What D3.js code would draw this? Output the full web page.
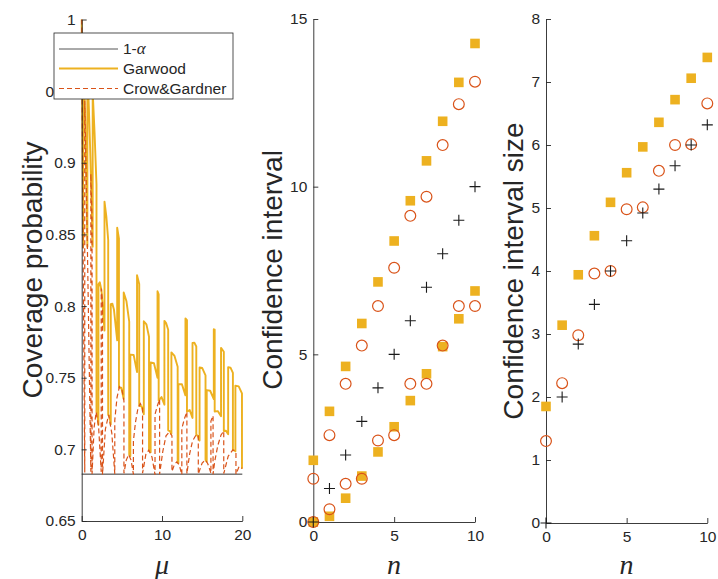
<!DOCTYPE html>
<html><head><meta charset="utf-8">
<script src="https://cdn.jsdelivr.net/npm/d3@7"></script>
<style>body{margin:0;background:#fff}svg{display:block}</style>
</head><body><svg id="c" width="718" height="579"></svg>
<script>
// ---------------- data ----------------
const confLevel = 0.6827;   // 1-alpha
// coverage of the Garwood interval vs mu : [mu, coverage]
const garwoodCoverage = [
 [0,1.0],[0.087,0.9167],[0.173,0.8411],[0.173,0.9869],[0.3,0.9631],[0.44,0.9274],[0.58,0.8846],
 [0.708,0.8414],[0.708,0.9649],[0.87,0.9421],[1.04,0.9123],[1.2,0.8795],[1.367,0.8414],[1.367,0.9499],
 [1.6,0.9212],[1.841,0.8850],[1.841,0.7263],[1.96,0.7235],[2.086,0.7172],[2.086,0.8152],
 [2.25,0.8166],[2.46,0.8111],[2.84,0.7829],[2.84,0.8729],[3.07,0.8625],[3.3,0.8460],[3.3,0.7243],
 [3.46,0.7227],[3.62,0.7176],[3.62,0.8013],[3.82,0.8017],[4.02,0.7974],[4.419,0.7761],[4.419,0.8547],
 [4.638,0.8471],[4.638,0.7430],[4.93,0.7430],[5.232,0.7351],[5.232,0.8095],
 [5.575,0.8033],[5.918,0.7891],[5.918,0.6962],[6.057,0.6953],[6.057,0.7661],
 [6.47,0.7659],[6.891,0.7539],[6.891,0.8215],[7.163,0.8154],[7.163,0.7304],
 [7.45,0.7301],[7.734,0.7245],[7.734,0.7894],[8.06,0.7872],[8.382,0.7786],[8.382,0.6997],
 [8.585,0.6980],[8.585,0.7606],[9.0,0.7601],[9.441,0.7499],[9.441,0.8103],[9.584,0.8082],[9.584,0.7341],
 [9.94,0.7365],[10.30,0.7312],[10.30,0.7897],[10.53,0.7879],[10.77,0.7835],[10.77,0.7133],
 [10.97,0.7128],[11.17,0.7109],[11.17,0.7677],[11.56,0.7652],[11.95,0.7577],[11.95,0.6910],
 [12.04,0.6904],[12.04,0.7456],[12.48,0.7454],[12.92,0.7377],[12.92,0.7914],[13.11,0.7902],[13.11,0.7263],
 [13.45,0.7274],[13.80,0.7219],[13.80,0.7743],[14.03,0.7745],[14.27,0.7718],[14.27,0.7104],
 [14.47,0.7090],[14.68,0.7061],[14.68,0.7572],[15.0,0.7568],[15.42,0.7516],[15.42,0.6926],
 [15.57,0.6914],[15.57,0.7413],[16.0,0.7409],[16.45,0.7351],[16.45,0.7838],[16.56,0.7835],[16.56,0.7264],
 [16.95,0.7267],[17.35,0.7231],[17.35,0.7708],[17.70,0.7681],[17.70,0.7128],
 [17.97,0.7130],[18.24,0.7106],[18.24,0.7573],[18.53,0.7570],[18.83,0.7534],[18.83,0.6997],
 [19.14,0.6987],[19.14,0.7445],[19.55,0.7440],[19.96,0.7390],[19.96,0.6869],[20,0.6866]
];
// coverage of the Crow & Gardner interval vs mu : [mu, coverage]
const crowGardnerCoverage = [
 [0,1.0],[0.19,0.8270],[0.38,0.6839],[0.38,0.9433],[0.57,0.8878],[0.76,0.8232],[0.95,0.7541],
 [1.14,0.6844],[1.14,0.8922],[1.29,0.8596],[1.29,0.6828],
 [1.55,0.7155],[1.8,0.7260],[2.1,0.7162],[2.43,0.6843],[2.43,0.8122],[2.59,0.8038],[2.59,0.6824],
 [2.95,0.7141],[3.35,0.7241],[3.75,0.7113],[4.12,0.6829],[4.12,0.7203],
 [4.4,0.7363],[4.7,0.7437],[5.0,0.7420],[5.26,0.7338],[5.26,0.6833],
 [5.55,0.6925],[5.85,0.6963],[6.15,0.6925],[6.44,0.6825],[6.44,0.7059],
 [6.7,0.7190],[7.0,0.7285],[7.3,0.7320],[7.58,0.7292],[7.58,0.6834],
 [8.0,0.6968],[8.35,0.6994],[8.75,0.6947],[9.13,0.6823],[9.13,0.7244],
 [9.4,0.7300],[9.70,0.7350],[9.70,0.6826],[10.1,0.6986],[10.5,0.7094],[10.9,0.7120],[11.24,0.7096],[11.24,0.6845],
 [11.55,0.6895],[11.85,0.6913],[12.15,0.6890],[12.47,0.6824],[12.47,0.7146],
 [12.8,0.7215],[13.1,0.7262],[13.1,0.6830],[13.45,0.6971],[13.8,0.7057],[14.27,0.7104],[14.52,0.7095],[14.52,0.6827],
 [15.0,0.6905],[15.42,0.6926],[15.7,0.6900],[16.0,0.6850],[16.09,0.6833],[16.09,0.7197],[16.36,0.7235],[16.36,0.6827],
 [16.56,0.6914],[16.95,0.7027],[17.35,0.7100],[17.69,0.7128],[17.69,0.6831],
 [18.24,0.6952],[18.83,0.6997],[19.14,0.6984],[19.21,0.6980],[19.21,0.6827],
 [19.6,0.6880],[19.96,0.6869],[20,0.6866]
];
const nValues      = [0,1,2,3,4,5,6,7,8,9,10];
const garwoodLower = [0,0.17,0.71,1.37,2.09,2.84,3.62,4.42,5.23,6.06,6.89];
const garwoodUpper = [1.84,3.30,4.64,5.92,7.16,8.38,9.58,10.77,11.95,13.11,14.27];
const cgLower      = [0,0.38,1.14,1.29,2.43,2.59,4.12,4.12,5.26,6.44,6.44];
const cgUpper      = [1.29,2.59,4.12,5.26,6.44,7.58,9.13,9.70,11.24,12.46,13.13];
const garwoodSize  = [1.85,3.14,3.94,4.56,5.09,5.56,5.97,6.36,6.72,7.06,7.39];
const cgSize       = [1.30,2.22,2.98,3.96,4.00,4.98,5.01,5.59,6.00,6.01,6.66];
const sqrtSize     = [0,2.00,2.84,3.47,4.00,4.48,4.92,5.30,5.67,6.00,6.32];
const covTicksX = [0,10,20];
const covTicksY = [0.65,0.7,0.75,0.8,0.85,0.9,0.95,1];
const nTicks    = [0,5,10];
const ciTicksY  = [0,5,10,15];
const sizeTicksY= [0,1,2,3,4,5,6,7,8];
const legendLabels = ["1-", "Garwood", "Crow&Gardner"];

// ---------------- drawing ----------------
const YEL = "#EDB120", ORG = "#D95319", AX = "#262626";
const svg = d3.select("#c");
const sans = "'Liberation Sans', Arial, Helvetica, sans-serif";

function axes(g, x, y, xt, yt, fmt) {
  const ax = g.append("g").attr("transform", `translate(0,${y.range()[0]})`)
    .call(d3.axisBottom(x).tickValues(xt).tickSizeInner(-5).tickSizeOuter(0).tickPadding(8).tickFormat(d3.format("~g")));
  const ay = g.append("g").attr("transform", `translate(${x.range()[0]},0)`)
    .call(d3.axisLeft(y).tickValues(yt).tickSizeInner(-5).tickSizeOuter(0).tickPadding(6).tickFormat(fmt || d3.format("~g")));
  [ax, ay].forEach(a => {
    a.selectAll("path,line").attr("stroke", AX).attr("stroke-width", 0.9);
    a.selectAll("text").attr("fill", AX).style("font-family", sans).style("font-size", "15.5px");
  });
}
function ylab(txt, xb, yc) {
  svg.append("text").attr("transform", `translate(${xb},${yc}) rotate(-90)`)
    .attr("text-anchor", "middle").attr("fill", AX)
    .style("font-family", sans).style("font-size", "28px").text(txt);
}
function xlab(txt, xc, yb) {
  svg.append("text").attr("x", xc).attr("y", yb).attr("text-anchor", "middle").attr("fill", AX)
    .style("font-family", "'Liberation Serif','DejaVu Serif',serif").style("font-style", "italic")
    .style("font-size", "28px").text(txt);
}

// ---- panel 1: coverage ----
const x1 = d3.scaleLinear().domain([0,20]).range([81.7,242.3]);
const y1 = d3.scaleLinear().domain([0.65,1]).range([521,19.5]);
const g1 = svg.append("g");
const line1 = d3.line().x(d => x1(d[0])).y(d => y1(d[1]));
g1.append("line").attr("x1", x1(0)).attr("x2", x1(20)).attr("y1", y1(confLevel)).attr("y2", y1(confLevel))
  .attr("stroke", "#333").attr("stroke-width", 1);
g1.append("path").datum(garwoodCoverage).attr("d", line1).attr("fill", "none")
  .attr("stroke", YEL).attr("stroke-width", 1.9).attr("stroke-linejoin", "round");
g1.append("path").datum(crowGardnerCoverage).attr("d", line1).attr("fill", "none")
  .attr("stroke", ORG).attr("stroke-width", 1.2).attr("stroke-dasharray", "5,3");
axes(g1, x1, y1, covTicksX, covTicksY);
ylab("Coverage probability", 42, 270);
xlab("\u03bc", 162, 574);

// legend
const lg = svg.append("g");
lg.append("rect").attr("x", 54).attr("y", 33).attr("width", 179).attr("height", 66)
  .attr("fill", "#fff").attr("stroke", AX).attr("stroke-width", 0.8);
const legY = [49, 68.5, 88.5];
const legStyle = [["#555", 1, null], [YEL, 1.9, null], [ORG, 1.2, "5,3"]];
legendLabels.forEach((t, i) => {
  const l = lg.append("line").attr("x1", 59).attr("x2", 118).attr("y1", legY[i]).attr("y2", legY[i])
    .attr("stroke", legStyle[i][0]).attr("stroke-width", legStyle[i][1]);
  if (legStyle[i][2]) l.attr("stroke-dasharray", legStyle[i][2]);
  const tx = lg.append("text").attr("x", 123).attr("y", legY[i]).attr("dy", "0.35em").attr("fill", AX)
    .style("font-family", sans).style("font-size", "15.5px").text(t);
  if (i === 0) tx.append("tspan").style("font-family", "'Liberation Serif','DejaVu Serif',serif")
    .style("font-style", "italic").style("font-size", "17px").text("\u03b1");
});

// ---- panel 2: confidence intervals ----
const x2 = d3.scaleLinear().domain([0,10]).range([313.3,475]);
const y2 = d3.scaleLinear().domain([0,15]).range([522,19]);
const g2 = svg.append("g");
axes(g2, x2, y2, nTicks, ciTicksY);
function squares(g, x, y, xs, ys) {
  g.selectAll(null).data(xs.map((d, i) => [d, ys[i]])).join("rect")
    .attr("x", d => x(d[0]) - 4.8).attr("y", d => y(d[1]) - 4.8).attr("width", 9.6).attr("height", 9.6)
    .attr("fill", YEL);
}
function circles(g, x, y, xs, ys) {
  g.selectAll(null).data(xs.map((d, i) => [d, ys[i]])).join("circle")
    .attr("cx", d => x(d[0])).attr("cy", d => y(d[1])).attr("r", 5.4)
    .attr("fill", "none").attr("stroke", ORG).attr("stroke-width", 1.2);
}
function pluses(g, x, y, xs, ys) {
  g.selectAll(null).data(xs.map((d, i) => [d, ys[i]])).join("path")
    .attr("d", d => { const cx = x(d[0]), cy = y(d[1]);
      return `M${cx-5.5},${cy}H${cx+5.5}M${cx},${cy-5.5}V${cy+5.5}`; })
    .attr("stroke", "#1a1a1a").attr("stroke-width", 1.1).attr("fill", "none");
}
squares(g2, x2, y2, nValues, garwoodLower);
squares(g2, x2, y2, nValues, garwoodUpper);
circles(g2, x2, y2, nValues, cgLower);
circles(g2, x2, y2, nValues, cgUpper);
pluses(g2, x2, y2, nValues, nValues);
ylab("Confidence interval", 282, 270);
xlab("n", 394, 574);

// ---- panel 3: interval size ----
const x3 = d3.scaleLinear().domain([0,10]).range([546,707.3]);
const y3 = d3.scaleLinear().domain([0,8]).range([523,19]);
const g3 = svg.append("g");
axes(g3, x3, y3, nTicks, sizeTicksY);
squares(g3, x3, y3, nValues, garwoodSize);
circles(g3, x3, y3, nValues, cgSize);
pluses(g3, x3, y3, nValues, sqrtSize);
ylab("Confidence interval size", 523, 271);
xlab("n", 626.6, 574);
</script></body></html>
